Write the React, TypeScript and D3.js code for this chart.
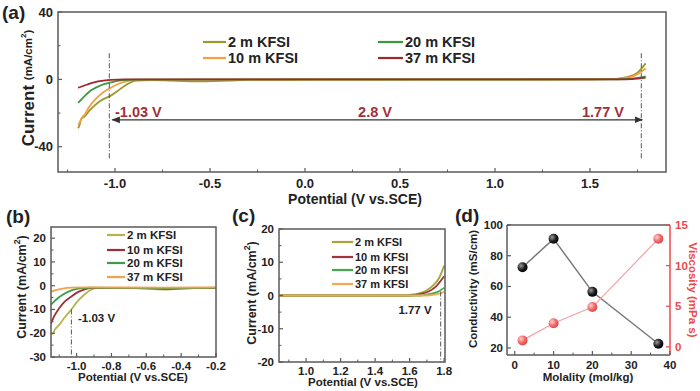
import React from 'react';
import * as d3 from 'd3';

const FONT = '"Liberation Sans", Arial, Helvetica, sans-serif';

const seriesNames = ['2 m KFSI', '10 m KFSI', '20 m KFSI', '37 m KFSI'];

// (a) full window, [potential V, current mA/cm2]
const a2m: [number, number][] = [[-1.194, -29], [-1.186, -27], [-1.178, -23.5], [-1.165, -22.5], [-1.13, -18], [-1.08, -13], [-1.02, -9.5], [-0.97, -5.5], [-0.93, -2.5], [-0.89, -0.8], [-0.8, -0.4], [-0.7, -0.8], [-0.55, -1.2], [-0.4, -0.8], [-0.3, -0.3], [0, -0.2], [0.5, -0.1], [1.0, -0.1], [1.5, 0], [1.6, 0.1], [1.65, 0.5], [1.7, 1.5], [1.75, 4], [1.793, 9.5]];
const a10m: [number, number][] = [[-1.194, -27], [-1.186, -25.5], [-1.175, -23], [-1.16, -21], [-1.14, -17], [-1.1, -11.5], [-1.06, -7.5], [-1.02, -4.8], [-0.98, -2.6], [-0.93, -0.9], [-0.88, -0.3], [0, -0.1], [1.5, 0], [1.62, 0.1], [1.68, 0.6], [1.73, 2], [1.793, 6.5]];
const a20m: [number, number][] = [[-1.194, -14], [-1.16, -10], [-1.126, -6.5], [-1.08, -3.8], [-1.02, -1.8], [-0.96, -0.5], [-0.9, -0.1], [0, 0], [1.6, 0], [1.68, 0.2], [1.74, 0.7], [1.793, 1.8]];
const a37m: [number, number][] = [[-1.194, -5], [-1.15, -3.2], [-1.11, -1.8], [-1.06, -0.8], [-1.02, -0.3], [-0.95, 0], [1.65, 0], [1.72, 0.2], [1.793, 1]];

// (b) cathodic zoom
const b2m: [number, number][] = [[-1.147, -20.5], [-1.135, -20], [-1.125, -18.5], [-1.1, -16.5], [-1.07, -13.5], [-1.03, -10], [-1.0, -7], [-0.96, -4], [-0.92, -1.8], [-0.89, -1], [-0.8, -0.9], [-0.65, -1.1], [-0.5, -1.6], [-0.4, -1.2], [-0.3, -1], [-0.2, -0.9]];
const b10m: [number, number][] = [[-1.147, -16], [-1.13, -13], [-1.1, -9.5], [-1.07, -6.8], [-1.03, -4.5], [-0.99, -2.6], [-0.95, -1.4], [-0.9, -0.9], [-0.6, -1], [-0.5, -1.3], [-0.4, -1.1], [-0.2, -0.9]];
const b20m: [number, number][] = [[-1.147, -8], [-1.12, -6], [-1.08, -3.8], [-1.03, -2], [-0.98, -1.1], [-0.92, -0.8], [-0.5, -1.1], [-0.2, -0.8]];
const b37m: [number, number][] = [[-1.147, -2.6], [-1.12, -1.9], [-1.08, -1.2], [-1.03, -0.8], [-0.95, -0.7], [-0.5, -0.8], [-0.2, -0.7]];

// (c) anodic zoom
const c2m: [number, number][] = [[0.843, 0], [1.55, 0], [1.6, 0.2], [1.65, 0.6], [1.7, 1.6], [1.74, 3.2], [1.77, 5.2], [1.8, 9]];
const c10m: [number, number][] = [[0.843, 0], [1.6, 0], [1.66, 0.4], [1.71, 1.2], [1.75, 2.6], [1.8, 5.8]];
const c20m: [number, number][] = [[0.843, 0], [1.65, 0], [1.71, 0.4], [1.76, 1], [1.8, 2.3]];
const c37m: [number, number][] = [[0.843, 0], [1.7, 0], [1.76, 0.4], [1.8, 1.1]];

// (d) conductivity / viscosity
const molality = [2, 10, 20, 37];
const conductivity = [72.5, 91, 56.5, 22.7];
const viscosity = [0.8, 2.9, 4.9, 13.3];

const aXTicks = [-1.0, -0.5, 0, 0.5, 1.0, 1.5];
const aXMinor = [-1.25, -0.75, -0.25, 0.25, 0.75, 1.25, 1.75];
const aYTicks = [-40, 0, 40];
const aYMinor = [-20, 20];
const bXTicks = [-1.0, -0.8, -0.6, -0.4, -0.2];
const bXMinor = [-1.1, -0.9, -0.7, -0.5, -0.3];
const bYTicks = [-30, -20, -10, 0, 10, 20];
const bYMinor = [-25, -15, -5, 5, 15];
const cXTicks = [1.0, 1.2, 1.4, 1.6, 1.8];
const cXMinor = [0.9, 1.1, 1.3, 1.5, 1.7];
const cYTicks = [-20, -10, 0, 10, 20];
const cYMinor = [-15, -5, 5, 15];
const dXTicks = [0, 10, 20, 30, 40];
const dXMinor = [5, 15, 25, 35];
const dYLeft = [20, 40, 60, 80, 100];
const dYRight = [0, 5, 10, 15];

const aColors = ['#9a9a2c', '#f4a040', '#3a9a3e', '#a2262c'];
const bColors = ['#b4b44c', '#9c3038', '#3c9c4c', '#f2a04c'];
const cColors = ['#a8a43c', '#a0343c', '#44a84c', '#f4aa54'];

const FRAME = '#5a5a5a';
const DARKRED = '#a2303a';
const DASH = '5,2,1,2';

type Pt = [number, number];

function Frame({ x, y, ticksX, minorX, ticksY, minorY, fmtX, fmtY, fs, labY, labX }: any) {
    const [x0, x1] = x.range();
    const [y0, y1] = y.range();
    return (
        <g>
            <rect x={x0} y={y1} width={x1 - x0} height={y0 - y1} fill="none" stroke={FRAME} strokeWidth={1.5} />
            {ticksX.map((t: number) => (
                <g key={'x' + t}>
                    <line x1={x(t)} x2={x(t)} y1={y0} y2={y0 - 4} stroke={FRAME} strokeWidth={1.2} />
                    <text x={x(t)} y={labY} textAnchor="middle" dominantBaseline="central"
                        fontSize={fs} fontWeight="bold" fill="#222">{fmtX(t)}</text>
                </g>
            ))}
            {minorX.map((t: number) => (
                <line key={'mx' + t} x1={x(t)} x2={x(t)} y1={y0} y2={y0 - 2.5} stroke={FRAME} strokeWidth={1} />
            ))}
            {ticksY.map((t: number) => (
                <g key={'y' + t}>
                    <line x1={x0} x2={x0 + 4} y1={y(t)} y2={y(t)} stroke={FRAME} strokeWidth={1.2} />
                    <text x={labX} y={y(t)} textAnchor="end" dominantBaseline="central"
                        fontSize={fs} fontWeight="bold" fill="#222">{fmtY(t)}</text>
                </g>
            ))}
            {minorY.map((t: number) => (
                <line key={'my' + t} x1={x0} x2={x0 + 2.5} y1={y(t)} y2={y(t)} stroke={FRAME} strokeWidth={1} />
            ))}
        </g>
    );
}

function Curves({ series, colors, x, y, clip }: any) {
    const line = d3.line<Pt>().x(d => x(d[0])).y(d => y(d[1])).curve(d3.curveMonotoneX);
    return (
        <g clipPath={`url(#${clip})`}>
            {series.map((s: Pt[], i: number) => (
                <path key={i} d={line(s) || ''} fill="none" stroke={colors[i]} strokeWidth={1.8} />
            ))}
        </g>
    );
}

function Legend({ items, colors, x0, x1, tx, ys, fs }: any) {
    return (
        <g>
            {items.map((name: string, i: number) => (
                <g key={name}>
                    <line x1={x0} x2={x1} y1={ys[i]} y2={ys[i]} stroke={colors[i]} strokeWidth={2.2} />
                    <text x={tx} y={ys[i]} dominantBaseline="central" fontSize={fs} fontWeight="bold" fill="#222">{name}</text>
                </g>
            ))}
        </g>
    );
}

function YLabel({ cx, cy, big, small, rot = -90, color = '#222', sup = true }: any) {
    return (
        <text transform={`translate(${cx},${cy}) rotate(${rot})`} textAnchor="middle" dominantBaseline="central"
            fontWeight="bold" fill={color}>
            <tspan fontSize={big}>Current </tspan>
            <tspan fontSize={small}>(mA/cm</tspan>
            {sup && <tspan fontSize={small * 0.7} dy={-small * 0.4}>2</tspan>}
            <tspan fontSize={small} dy={sup ? small * 0.4 : 0}>)</tspan>
        </text>
    );
}

const f1 = (v: number) => v.toFixed(1);
const f0 = (v: number) => String(v);

export default function App() {
    // panel (a)
    const ax = d3.scaleLinear().domain([-1.3, 1.9]).range([58, 666]);
    const ay = d3.scaleLinear().domain([-55, 40]).range([172, 12]);
    // panel (b)
    const bx = d3.scaleLinear().domain([-1.147, -0.2]).range([51, 216]);
    const by = d3.scaleLinear().domain([-30, 24.7]).range([357, 227]);
    // panel (c)
    const cx = d3.scaleLinear().domain([0.843, 1.805]).range([279, 445]);
    const cy = d3.scaleLinear().domain([-20, 20]).range([362, 229]);
    // panel (d)
    const dx = d3.scaleLinear().domain([-2, 40]).range([507, 670]);
    const dyL = d3.scaleLinear().domain([15.4, 100]).range([355, 225]);
    const dyR = d3.scaleLinear().domain([-1, 15]).range([355, 225]);

    const condLine = d3.line<number>().x((_, i) => dx(molality[i])).y(d => dyL(d));
    const viscLine = d3.line<number>().x((_, i) => dx(molality[i])).y(d => dyR(d));

    const arrowY = ay(-24);

    return (
        <svg width={700} height={391} style={{ position: 'absolute', left: 0, top: 0, background: '#fff' }}
            fontFamily={FONT}>
            <defs>
                <clipPath id="clipA"><rect x={58} y={12} width={608} height={160} /></clipPath>
                <clipPath id="clipB"><rect x={51} y={227} width={165} height={130} /></clipPath>
                <clipPath id="clipC"><rect x={279} y={229} width={166} height={133} /></clipPath>
                <marker id="arrL" viewBox="0 0 10 10" refX={1} refY={5} markerWidth={7} markerHeight={7} orient="auto">
                    <path d="M10,1 L0,5 L10,9 Z" fill="#333" />
                </marker>
                <marker id="arrR" viewBox="0 0 10 10" refX={9} refY={5} markerWidth={7} markerHeight={7} orient="auto">
                    <path d="M0,1 L10,5 L0,9 Z" fill="#333" />
                </marker>
                <radialGradient id="ballK" cx="35%" cy="35%" r="65%">
                    <stop offset="0%" stopColor="#9a9a9a" />
                    <stop offset="60%" stopColor="#222" />
                    <stop offset="100%" stopColor="#000" />
                </radialGradient>
                <radialGradient id="ballR" cx="35%" cy="35%" r="65%">
                    <stop offset="0%" stopColor="#ffd0d0" />
                    <stop offset="60%" stopColor="#f26a6a" />
                    <stop offset="100%" stopColor="#e04848" />
                </radialGradient>
            </defs>

            {/* ---------- (a) ---------- */}
            <text x={2} y={19} fontSize={19} fontWeight="bold" fill="#222">(a)</text>
            <Curves series={[a2m, a10m, a20m, a37m]} colors={aColors} x={ax} y={ay} clip="clipA" />
            <Frame x={ax} y={ay} ticksX={aXTicks} minorX={aXMinor} ticksY={aYTicks} minorY={aYMinor}
                fmtX={f1} fmtY={f0} fs={13} labY={183} labX={53} />
            <YLabel cx={28} cy={88} big={17} small={11.5} />
            <text x={355} y={199} textAnchor="middle" dominantBaseline="central" fontSize={14} fontWeight="bold" fill="#222">
                Potential (V vs.SCE)
            </text>
            <line x1={ax(-1.03)} x2={ax(-1.03)} y1={ay(15.5)} y2={ay(-48)} stroke="#555" strokeWidth={1} strokeDasharray={DASH} />
            <line x1={ax(1.77)} x2={ax(1.77)} y1={ay(15.5)} y2={ay(-48)} stroke="#555" strokeWidth={1} strokeDasharray={DASH} />
            <line x1={ax(-1.03) + 3} x2={ax(1.77) + 1} y1={arrowY} y2={arrowY} stroke="#333" strokeWidth={1.2}
                markerStart="url(#arrL)" markerEnd="url(#arrR)" />
            <text x={115} y={112} dominantBaseline="central" fontSize={14.5} fontWeight="bold" fill={DARKRED}>-1.03 V</text>
            <text x={375} y={112} textAnchor="middle" dominantBaseline="central" fontSize={14.5} fontWeight="bold" fill={DARKRED}>2.8 V</text>
            <text x={603} y={112} textAnchor="middle" dominantBaseline="central" fontSize={14.5} fontWeight="bold" fill={DARKRED}>1.77 V</text>
            <Legend items={seriesNames.slice(0, 2)} colors={aColors.slice(0, 2)} x0={203} x1={226} tx={228} ys={[42, 58]} fs={14.5} />
            <Legend items={seriesNames.slice(2)} colors={aColors.slice(2)} x0={378} x1={403} tx={405} ys={[42, 58]} fs={14.5} />

            {/* ---------- (b) ---------- */}
            <text x={6} y={223} fontSize={19} fontWeight="bold" fill="#222">(b)</text>
            <Curves series={[b2m, b10m, b20m, b37m]} colors={bColors} x={bx} y={by} clip="clipB" />
            <line x1={bx(-1.03)} x2={bx(-1.03)} y1={by(-10)} y2={by(-30)} stroke="#555" strokeWidth={1} strokeDasharray={DASH} />
            <Frame x={bx} y={by} ticksX={bXTicks} minorX={bXMinor} ticksY={bYTicks} minorY={bYMinor}
                fmtX={f1} fmtY={f0} fs={11.5} labY={366} labX={46} />
            <YLabel cx={22} cy={287} big={12.5} small={12.5} />
            <text x={133} y={377} textAnchor="middle" dominantBaseline="central" fontSize={11.5} fontWeight="bold" fill="#222">
                Potential (V vs.SCE)
            </text>
            <text x={78} y={318} dominantBaseline="central" fontSize={11.5} fontWeight="bold" fill="#222">-1.03 V</text>
            <Legend items={seriesNames} colors={bColors} x0={107} x1={125} tx={127} ys={[235, 250, 263, 277]} fs={11.5} />

            {/* ---------- (c) ---------- */}
            <text x={232} y={222} fontSize={19} fontWeight="bold" fill="#222">(c)</text>
            <Curves series={[c2m, c10m, c20m, c37m]} colors={cColors} x={cx} y={cy} clip="clipC" />
            <line x1={cx(1.78)} x2={cx(1.78)} y1={cy(1.2)} y2={cy(-20)} stroke="#555" strokeWidth={1} strokeDasharray={DASH} />
            <Frame x={cx} y={cy} ticksX={cXTicks} minorX={cXMinor} ticksY={cYTicks} minorY={cYMinor}
                fmtX={f1} fmtY={f0} fs={11.5} labY={371} labX={274} />
            <YLabel cx={252} cy={293} big={12.5} small={12.5} />
            <text x={363} y={382} textAnchor="middle" dominantBaseline="central" fontSize={11.5} fontWeight="bold" fill="#222">
                Potential (V vs.SCE)
            </text>
            <text x={415} y={310} textAnchor="middle" dominantBaseline="central" fontSize={11.5} fontWeight="bold" fill="#222">1.77 V</text>
            <Legend items={seriesNames} colors={cColors} x0={332} x1={353} tx={355} ys={[242, 257, 270, 284]} fs={11} />

            {/* ---------- (d) ---------- */}
            <text x={455} y={222} fontSize={19} fontWeight="bold" fill="#222">(d)</text>
            <path d={condLine(conductivity) || ''} fill="none" stroke="#7a7a7a" strokeWidth={1.5} />
            <path d={viscLine(viscosity) || ''} fill="none" stroke="#f4a0a4" strokeWidth={1.2} />
            {conductivity.map((v, i) => (
                <circle key={'k' + i} cx={dx(molality[i])} cy={dyL(v)} r={5} fill="url(#ballK)" />
            ))}
            {viscosity.map((v, i) => (
                <circle key={'r' + i} cx={dx(molality[i])} cy={dyR(v)} r={5} fill="url(#ballR)" />
            ))}
            <line x1={507} x2={670} y1={225} y2={225} stroke={FRAME} strokeWidth={1.5} />
            <line x1={507} x2={670} y1={355} y2={355} stroke={FRAME} strokeWidth={1.5} />
            <line x1={507} x2={507} y1={225} y2={355} stroke={FRAME} strokeWidth={1.5} />
            <line x1={670} x2={670} y1={225} y2={355} stroke="#f04848" strokeWidth={1.5} />
            {dXTicks.map(t => (
                <g key={'dx' + t}>
                    <line x1={dx(t)} x2={dx(t)} y1={355} y2={351} stroke={FRAME} strokeWidth={1.2} />
                    <text x={dx(t)} y={365} textAnchor="middle" dominantBaseline="central" fontSize={11.5} fontWeight="bold" fill="#222">{t}</text>
                </g>
            ))}
            {dXMinor.map(t => (
                <line key={'dmx' + t} x1={dx(t)} x2={dx(t)} y1={355} y2={352.5} stroke={FRAME} strokeWidth={1} />
            ))}
            {dYLeft.map(t => (
                <g key={'dl' + t}>
                    <line x1={507} x2={511} y1={dyL(t)} y2={dyL(t)} stroke={FRAME} strokeWidth={1.2} />
                    <text x={503} y={dyL(t)} textAnchor="end" dominantBaseline="central" fontSize={11.5} fontWeight="bold" fill="#222">{t}</text>
                </g>
            ))}
            {dYRight.map(t => (
                <g key={'dr' + t}>
                    <line x1={670} x2={666} y1={dyR(t)} y2={dyR(t)} stroke="#f04848" strokeWidth={1.2} />
                    <text x={675} y={dyR(t)} dominantBaseline="central" fontSize={11.5} fontWeight="bold" fill="#f04848">{t}</text>
                </g>
            ))}
            <text transform="translate(473,289) rotate(-90)" textAnchor="middle" dominantBaseline="central"
                fontSize={11.5} fontWeight="bold" fill="#222">Conductivity (mS/cm)</text>
            <text transform="translate(693,290) rotate(90)" textAnchor="middle" dominantBaseline="central"
                fontSize={11.5} fontWeight="bold" fill="#f04848">Viscosity (mPa s)</text>
            <text x={588} y={377} textAnchor="middle" dominantBaseline="central" fontSize={11.5} fontWeight="bold" fill="#222">
                Molality (mol/kg)
            </text>
        </svg>
    );
}
